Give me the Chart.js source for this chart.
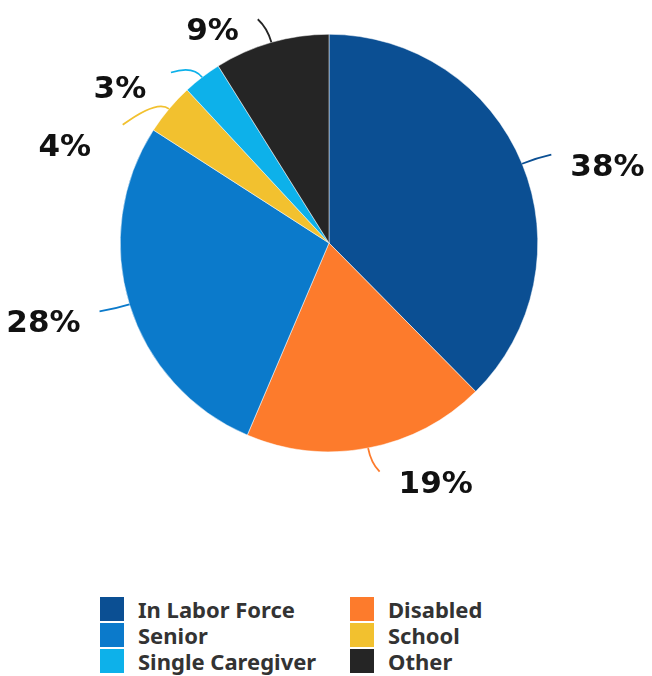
<!DOCTYPE html>
<html>
<head>
<meta charset="utf-8">
<script src="https://cdn.jsdelivr.net/npm/chart.js@4.4.1/dist/chart.umd.min.js"></script>
<style>
    body { margin: 0; background: #fff; width: 652px; height: 676px; position: relative; overflow: hidden; }
    #wrap { position: absolute; left: 0; top: 0; width: 652px; height: 530px; }
    #legend {
        position: absolute; left: 100px; top: 596px;
        display: grid; grid-template-columns: 250px auto; grid-auto-rows: 26px;
        font-family: "Noto Sans", sans-serif; font-weight: 700; font-size: 22px; color: #333;
    }
    .item { display: flex; align-items: center; height: 26px; }
    .box { width: 24px; height: 24px; margin-right: 14px; flex: none; }
</style>
</head>
<body>
<div id="wrap"><canvas id="chart" width="652" height="530"></canvas></div>
<div id="legend"></div>
<script>
const categories = ['In Labor Force', 'Disabled', 'Senior', 'School', 'Single Caregiver', 'Other']
const shares = [37.6, 18.8, 27.7, 4.0, 3.0, 8.9]
const colors = ['#0b4f93', '#fd7b2c', '#0b7acb', '#f2c12f', '#0db1ea', '#252525']

// legend, row by row in two columns
const legend = document.getElementById('legend')
categories.forEach((name, i) => {
    const item = document.createElement('div')
    item.className = 'item'
    item.innerHTML = `<span class="box" style="background:${colors[i]}"></span><span>${name}</span>`
    legend.appendChild(item)
})

// percent labels with curved leader lines
const leaderLabels = {
    id: 'leaderLabels',
    afterDatasetsDraw(chart) {
        const ctx = chart.ctx
        const meta = chart.getDatasetMeta(0)
        const total = shares.reduce((a, b) => a + b, 0)
        const items = meta.data.map((arc, i) => {
            const p = arc.getProps(['x', 'y', 'startAngle', 'endAngle', 'outerRadius'], true)
            const mid = (p.startAngle + p.endAngle) / 2
            const dx = Math.cos(mid), dy = Math.sin(mid)
            const side = dx >= 0 ? 1 : -1
            const edge = { x: p.x + dx * p.outerRadius, y: p.y + dy * p.outerRadius }
            const ctrl = { x: edge.x + dx * 15, y: edge.y + dy * 15 }
            const end = { x: edge.x + dx * 24 + side * 7, y: edge.y + dy * 24 }
            return {
                i, side, edge, ctrl, end,
                tx: end.x + side * 19,
                ty: end.y + 13,
                text: Math.round(shares[i] / total * 100) + '%'
            }
        })

        // push labels apart vertically on each side
        ;[1, -1].forEach(side => {
            const list = items.filter(it => it.side === side).sort((a, b) => a.ty - b.ty)
            for (let k = 1; k < list.length; k++) {
                const need = list[k - 1].ty + 58
                if (list[k].ty < need) {
                    const d = need - list[k].ty
                    list[k].ty = need
                    list[k].tx += side * 0.8 * d
                    list[k].end.x += side * 0.5 * d
                    list[k].end.y += 0.75 * d
                }
            }
        })

        ctx.save()
        items.forEach(it => {
            ctx.strokeStyle = colors[it.i]
            ctx.lineWidth = 1.8
            ctx.beginPath()
            ctx.moveTo(it.edge.x, it.edge.y)
            ctx.quadraticCurveTo(it.ctrl.x, it.ctrl.y, it.end.x, it.end.y)
            ctx.stroke()

            ctx.fillStyle = '#111'
            ctx.font = 'bold 31px "DejaVu Sans"'
            ctx.textBaseline = 'middle'
            ctx.textAlign = it.side > 0 ? 'left' : 'right'
            ctx.fillText(it.text, it.tx, it.ty)
        })
        ctx.restore()
    }
}

new Chart(document.getElementById('chart'), {
    type: 'pie',
    data: {
        labels: categories,
        datasets: [{
            data: shares,
            backgroundColor: colors,
            borderColor: '#ffffff',
            borderWidth: 0.5
        }]
    },
    options: {
        responsive: false,
        animation: false,
        layout: { padding: { top: 34, bottom: 78, left: 120, right: 114 } },
        plugins: {
            legend: { display: false },
            tooltip: { enabled: false }
        }
    },
    plugins: [leaderLabels]
})
</script>
</body>
</html>
